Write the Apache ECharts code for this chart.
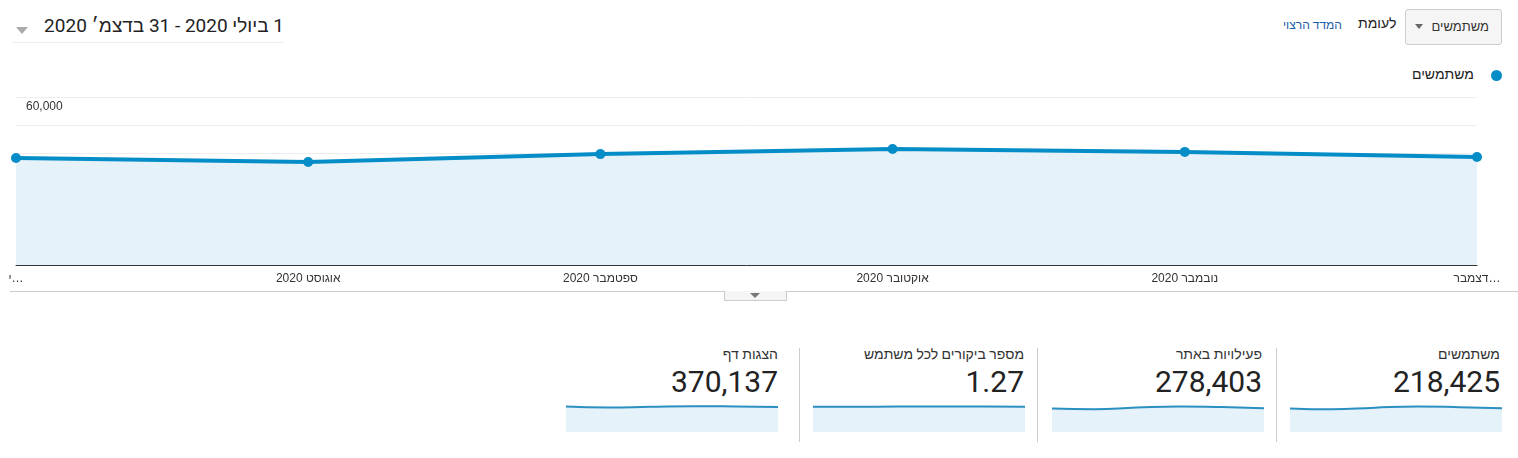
<!DOCTYPE html>
<html>
<head>
<meta charset="utf-8">
<script src="https://cdn.jsdelivr.net/npm/echarts@6/dist/echarts.min.js"></script>
<style>
body{margin:0;width:1518px;height:458px;overflow:hidden;background:#fff;font-family:Roboto,"Noto Sans",Arial,sans-serif;color:#222;position:relative}
.abs{position:absolute}
.card{position:absolute;top:346px;width:212px;direction:rtl;text-align:right}
.card .t{font-size:14px;color:#333}
.card .v{font-size:30px;color:#222;margin-top:2px}
.spark{position:absolute;top:400px;width:212px;height:32px}
.sep{position:absolute;top:348px;width:1px;height:94px;background:#ccc}
</style>
</head>
<body>
<div class="abs" style="left:12px;top:14px;width:272px;height:28px;border-bottom:1px solid #eee;direction:rtl;text-align:right;font-size:19px;color:#222">1 ביולי 2020 - 31 בדצמ׳ 2020</div>
<div class="abs" style="left:16px;top:27px;width:0;height:0;border-left:6px solid transparent;border-right:6px solid transparent;border-top:7px solid #aaa"></div>
<div class="abs" style="left:1405px;top:9px;width:95px;height:34px;border:1px solid #ccc;border-radius:3px;background:#f5f5f5;direction:rtl;font-size:13px;color:#333;line-height:34px;padding-right:0"><span style="margin-right:12px">משתמשים</span></div>
<div class="abs" style="left:1415px;top:24px;width:0;height:0;border-left:4px solid transparent;border-right:4px solid transparent;border-top:5px solid #666"></div>
<div class="abs" style="left:1358px;top:15px;font-size:14px;color:#222">לעומת</div>
<div class="abs" style="left:1283px;top:18px;font-size:12px;color:#1a5ea8">המדד הרצוי</div>
<div class="abs" style="left:1412px;top:66px;font-size:14px;color:#222">משתמשים</div>
<div class="abs" style="left:1491px;top:70px;width:11px;height:11px;border-radius:50%;background:#058dc7"></div>
<div id="main" class="abs" style="left:0;top:0;width:1518px;height:300px"></div>
<div class="abs" style="left:10px;top:291px;width:1508px;height:1px;background:#ccc"></div>
<div class="abs" style="left:724px;top:291px;width:61px;height:9px;border:1px solid #ccc;border-top:none;background:#f5f5f5"></div>
<div class="abs" style="left:750px;top:293px;width:0;height:0;border-left:5px solid transparent;border-right:5px solid transparent;border-top:5px solid #777"></div>

<div class="card" style="left:1288px"><div class="t">משתמשים</div><div class="v">218,425</div></div>
<div class="card" style="left:1050px"><div class="t">פעילויות באתר</div><div class="v">278,403</div></div>
<div class="card" style="left:812px"><div class="t">מספר ביקורים לכל משתמש</div><div class="v">1.27</div></div>
<div class="card" style="left:566px"><div class="t">הצגות דף</div><div class="v">370,137</div></div>
<div class="sep" style="left:1276px"></div>
<div class="sep" style="left:1037px"></div>
<div class="sep" style="left:799px"></div>
<div id="s0" class="spark" style="left:1290px"></div>
<div id="s1" class="spark" style="left:1052px"></div>
<div id="s2" class="spark" style="left:813px"></div>
<div id="s3" class="spark" style="left:566px"></div>
<script>
var months = ['י…', 'אוגוסט 2020', 'ספטמבר 2020', 'אוקטובר 2020', 'נובמבר 2020', 'דצמבר…'];
var users = [38200, 36800, 39600, 41400, 40400, 38600];
var sessions = [47500, 46300, 49800, 52000, 50600, 48300];
var visitsPerUser = [1.26, 1.26, 1.27, 1.27, 1.27, 1.26];
var pageviews = [63500, 61000, 63000, 64500, 63800, 62500];

var blue = '#058dc7';
var fill = '#e6f2f9';

var myChart = echarts.init(document.getElementById('main'));
myChart.setOption({
    animation: false,
    grid: { left: 16, right: 41, top: 97, bottom: 35 },
    xAxis: {
        type: 'category',
        data: months,
        boundaryGap: false,
        axisLine: { lineStyle: { color: '#333', width: 1 } },
        axisTick: { show: false },
        axisLabel: { color: '#333', fontSize: 12, margin: 8, interval: 0 }
    },
    yAxis: {
        type: 'value',
        min: 0,
        max: 60000,
        interval: 10000,
        axisLine: { show: false },
        axisTick: { show: false },
        splitLine: { lineStyle: { color: '#eee' } },
        axisLabel: {
            inside: true,
            color: '#333',
            fontSize: 12,
            verticalAlign: 'top',
            padding: [4, 0, 0, 2],
            formatter: function (v) { return (v > 0 && v % 20000 === 0) ? v.toLocaleString('en-US') : ''; }
        }
    },
    series: [{
        type: 'line',
        data: users,
        symbol: 'circle',
        symbolSize: 10,
        lineStyle: { color: blue, width: 4 },
        itemStyle: { color: blue },
        areaStyle: { color: fill, opacity: 1 }
    }]
});

function spark(id, data, max) {
    var c = echarts.init(document.getElementById(id));
    c.setOption({
        animation: false,
        grid: { left: 0, right: 0, top: 0, bottom: 0 },
        xAxis: { type: 'category', show: false, boundaryGap: false, data: months },
        yAxis: { type: 'value', show: false, min: 0, max: max },
        series: [{
            type: 'line', data: data, symbol: 'none', smooth: true,
            lineStyle: { color: '#2a8fc1', width: 2 },
            areaStyle: { color: fill, opacity: 1 }
        }]
    });
}
spark('s0', users, 52000);
spark('s1', sessions, 65000);
spark('s2', visitsPerUser, 1.6);
spark('s3', pageviews, 80000);
</script>
</body>
</html>
